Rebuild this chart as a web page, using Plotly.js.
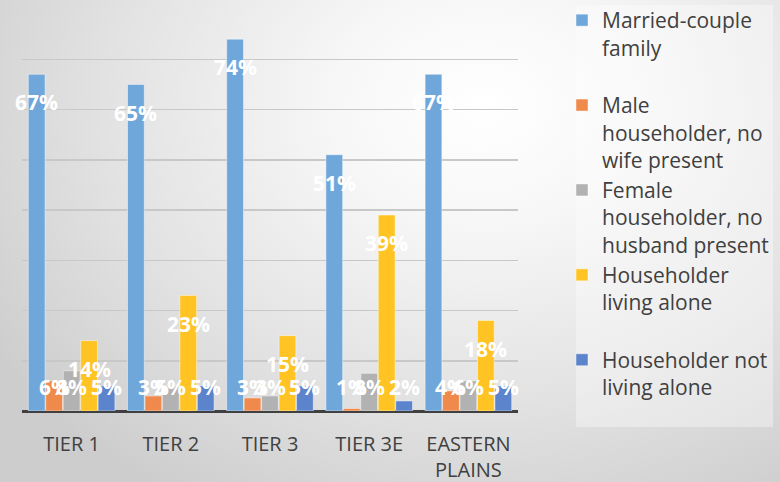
<!DOCTYPE html>
<html>
<head>
<meta charset="utf-8">
<script src="https://cdn.plot.ly/plotly-3.0.1.min.js"></script>
<style>
html, body { margin:0; padding:0; }
body {
  width:780px; height:482px; overflow:hidden;
  background: radial-gradient(ellipse 75% 95% at 62% 22%, #ffffff 0%, #f7f7f7 25%, #e2e2e2 65%, #cdcdcd 100%);
}
#chart { width:780px; height:482px; }
</style>
</head>
<body>
<div id="chart"></div>
<script>
var categories = ["TIER 1", "TIER 2", "TIER 3", "TIER 3E", "EASTERN<br>PLAINS"];
var seriesNames = [
  "Married-couple<br>family<br>\u00a0",
  "Male<br>householder, no<br>wife present",
  "Female<br>householder, no<br>husband present",
  "Householder<br>living alone<br>\u00a0",
  "Householder not<br>living alone<br>\u00a0"
];
var marriedCouple   = [67, 65, 74, 51, 67];
var maleNoWife      = [6, 3, 2.6, 0.5, 4];
var femaleNoHusband = [8, 5, 3, 7.5, 6];
var livingAlone     = [14, 23, 15, 39, 18];
var notLivingAlone  = [5, 5, 5, 2, 5];
var colors = ["#6FA7DA", "#EF8A4C", "#B2B2B2", "#FFC423", "#5B84CC"];

var allSeries = [marriedCouple, maleNoWife, femaleNoHusband, livingAlone, notLivingAlone];

var traces = allSeries.map(function (vals, i) {
  return {
    type: "bar",
    name: seriesNames[i],
    x: categories,
    y: vals,
    marker: { color: colors[i], line: { color: "rgba(255,255,255,0.45)", width: 1 } },
    hoverinfo: "x+y"
  };
});

var bargap = 0.12;
var plotL = 22, plotR = 518;
var plotW = plotR - plotL;
var step = (plotW / categories.length) * (1 - bargap) / allSeries.length;

var annotations = [];
allSeries.forEach(function (vals, i) {
  vals.forEach(function (v, j) {
    annotations.push({
      x: categories[j], xref: "x",
      y: Math.max(v - 5.6, 4.8), yref: "y",
      xshift: (i - 2) * step,
      text: Math.round(v) + "%",
      showarrow: false,
      yanchor: "middle",
      font: { family: "Open Sans", size: 21, color: "#ffffff", weight: "bold" }
    });
  });
});

var paperH = 482 - 71;
var paperW = 780 - plotL;
function px(xp) { return (xp - plotL) / paperW; }
function py(yp) { return (paperH - yp) / paperH; }

var layout = {
  width: 780, height: 482,
  margin: { l: plotL, r: 0, t: 0, b: 71 },
  paper_bgcolor: "rgba(0,0,0,0)",
  plot_bgcolor: "rgba(0,0,0,0)",
  barmode: "group",
  bargap: bargap,
  bargroupgap: 0.04,
  showlegend: true,
  font: { family: "Open Sans", color: "#404040" },
  xaxis: {
    domain: [0, plotW / paperW],
    type: "category",
    range: [-0.5, categories.length - 0.5],
    autorange: false,
    showgrid: false,
    zeroline: false,
    showline: false,
    ticks: "outside", ticklen: 15, tickcolor: "rgba(0,0,0,0)",
    tickfont: { family: "Open Sans", size: 20, color: "#404040" }
  },
  yaxis: {
    domain: [0, py(9)],
    range: [0, 80], autorange: false, dtick: 10,
    showgrid: true, gridcolor: "#c8c8c8", gridwidth: 1.5,
    zeroline: true, zerolinecolor: "#404040", zerolinewidth: 3,
    showticklabels: false, ticks: "", fixedrange: true
  },
  legend: {
    x: px(562), xanchor: "left",
    y: 1.0, yanchor: "top",
    bgcolor: "rgba(0,0,0,0)",
    borderwidth: 0,
    valign: "top",
    maxheight: 480,
    font: { family: "Open Sans", size: 21, color: "#404040" },
    itemwidth: 30,
    traceorder: "normal"
  },
  shapes: [{
    type: "rect", xref: "paper", yref: "paper",
    x0: px(576), x1: px(773), y0: py(427), y1: py(5),
    fillcolor: "rgba(255,255,255,0.35)", line: { width: 0 }, layer: "below"
  }],
  annotations: annotations
};

Plotly.newPlot("chart", traces, layout, { displayModeBar: false, staticPlot: true });
</script>
</body>
</html>
